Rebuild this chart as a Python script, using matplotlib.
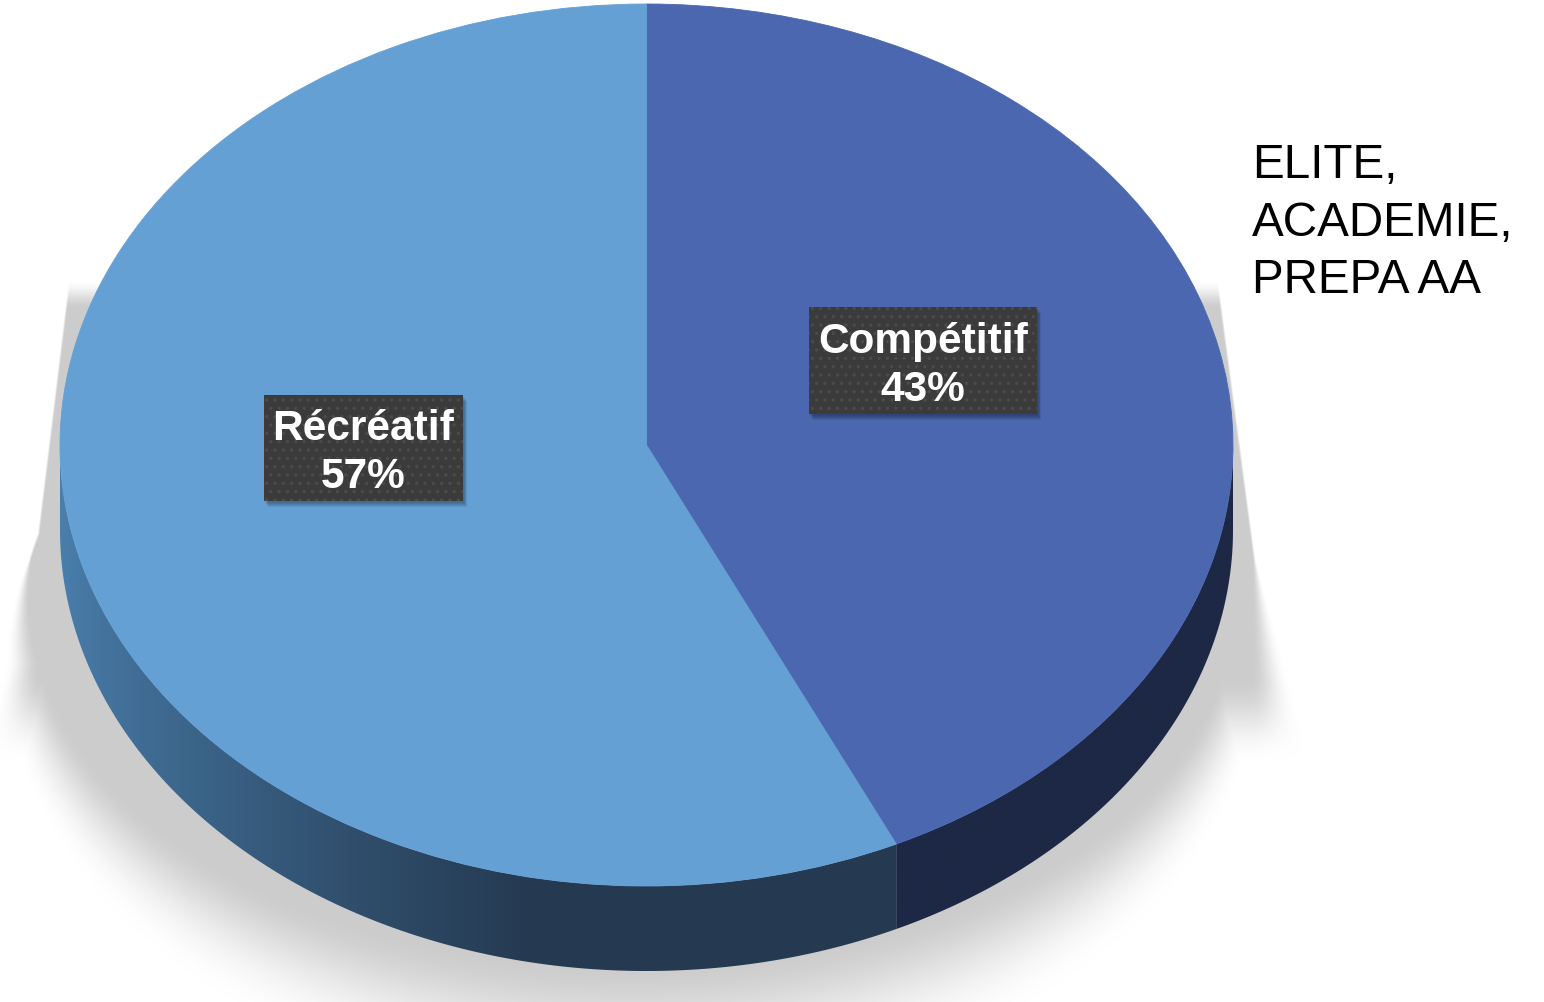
import numpy as np
import matplotlib
matplotlib.use("Agg")
import matplotlib.pyplot as plt
from matplotlib.patches import Polygon, Rectangle

# ---- data ----
categories = ["Compétitif", "Récréatif"]
values = [43, 57]
pct_labels = ["43%", "57%"]
legend_lines = ["ELITE,", "ACADEMIE,", "PREPA AA"]

top_colors = ["#4A67AF", "#64A0D4"]
W, H = 1544, 1003
fig = plt.figure(figsize=(W / 100, H / 100), dpi=100)

# ---- shadow layer (pixel coordinates) ----
axs = fig.add_axes([0, 0, 1, 1])
axs.set_xlim(0, W); axs.set_ylim(H, 0); axs.axis("off")
yy, xx = np.mgrid[0:H, 0:W].astype(float)

def soft(d, w):
    t = np.clip(d / w + 0.5, 0, 1)
    return t * t * (3 - 2 * t)

wy = 3 + np.clip(yy - 560, 0, None) * 0.30
xl = 68 - 0.122 * (yy - 290)
xr = 1226 + 0.133 * (yy - 350)
trap = soft(xx - xl, wy) * soft(xr - xx, wy) * soft(yy - 295, 30) * soft(720 - yy, 90)
ecx, ecy, ea, eb = 632, 630, 612, 395
dx, dy = xx - ecx, yy - ecy
r = np.sqrt((dx / ea) ** 2 + (dy / eb) ** 2) + 1e-9
g = np.sqrt((dx / ea ** 2) ** 2 + (dy / eb ** 2) ** 2) / r + 1e-9
ell = soft((1 - r) / g, wy)
alpha = np.maximum(trap, ell)
rgba = np.zeros((H, W, 4))
rgba[..., :3] = 0.80
rgba[..., 3] = alpha
axs.imshow(rgba, extent=(0, W, H, 0), interpolation="bilinear", zorder=0)

# ---- pie layer (unit circle mapped onto ellipse) ----
CX, CY, RX, RY = 646.5, 446.0, 586.5, 441.0
DEPTH = 85.0 / RY
axq = fig.add_axes([0, 0, 1, 1])
axq.patch.set_alpha(0)
wedges, _ = axq.pie(values, startangle=90, counterclock=False, colors=top_colors,
                    radius=1, center=(0, 0), wedgeprops=dict(linewidth=0))
for w_ in wedges:
    w_.set_zorder(5)
    w_.set_edgecolor(w_.get_facecolor())
    w_.set_linewidth(0.6)
axq.set_aspect("auto")
axq.axis("off")

def front_range(t1, t2):
    for k in (-360, 0, 360):
        a, b = t1 + k, t2 + k
        lo, hi = max(a, -180), min(b, 0)
        if hi > lo:
            return lo, hi
    return None

side_left = np.array([74, 127, 173]) / 255
side_dark = np.array([37, 58, 81]) / 255
side_comp = np.array([29, 40, 69]) / 255
for i, w_ in enumerate(wedges):
    fr = front_range(w_.theta1, w_.theta2)
    if fr is None:
        continue
    t = np.radians(np.linspace(fr[0], fr[1], 200))
    top = np.column_stack([np.cos(t), np.sin(t)])
    bot = np.column_stack([np.cos(t), np.sin(t) - DEPTH])[::-1]
    poly = Polygon(np.vstack([top, bot]), closed=True, facecolor="none",
                   edgecolor="none", transform=axq.transData)
    axq.add_patch(poly)
    u = np.linspace(-1, 1, 400)
    if categories[i] == "Récréatif":
        s = np.clip((u + 1) / 0.8, 0, 1) ** 0.75
        cols = side_left[None, :] * (1 - s[:, None]) + side_dark[None, :] * s[:, None]
    else:
        cols = np.tile(side_comp, (400, 1))
    img = axq.imshow(cols[None, :, :], extent=(-1, 1, -1 - DEPTH - 0.05, 0.05),
                     aspect="auto", interpolation="bilinear", zorder=3)
    img.set_clip_path(poly)
axq.set_xlim((0 - CX) / RX, (W - CX) / RX)
axq.set_ylim((CY - H) / RY, CY / RY)

# ---- labels (pixel coordinates) ----
axl = fig.add_axes([0, 0, 1, 1])
axl.patch.set_alpha(0)
axl.set_xlim(0, W); axl.set_ylim(H, 0); axl.axis("off")
plt.rcParams["hatch.linewidth"] = 1.2

boxes = {"Compétitif": (809, 308, 228, 107, 923, 353, 401),
         "Récréatif": (264, 396, 199, 106, 363, 440, 488)}
for cat, pct in zip(categories, pct_labels):
    bx, by, bw, bh, tx, b1, b2 = boxes[cat]
    for k in range(5):
        axl.add_patch(Rectangle((bx + 1 + k * 0.8, by + 2 + k), bw, bh, facecolor="black",
                                alpha=0.07, edgecolor="none", zorder=1))
    axl.add_patch(Rectangle((bx, by), bw, bh, facecolor="#3b3b3b", edgecolor="#4b4b4b",
                            linewidth=0, hatch="..", zorder=2))
    axl.text(tx, b1, cat, ha="center", va="baseline", color="white", fontsize=30.5,
             fontweight="bold", family="Liberation Sans", zorder=3)
    axl.text(tx, b2, pct, ha="center", va="baseline", color="white", fontsize=30.5,
             fontweight="bold", family="Liberation Sans", zorder=3)

for line, base in zip(legend_lines, [178, 236, 293]):
    axl.text(1252, base, line, ha="left", va="baseline", color="black", fontsize=34.3,
             family="Liberation Sans")

fig.savefig("out.png", dpi=100, facecolor="white")
